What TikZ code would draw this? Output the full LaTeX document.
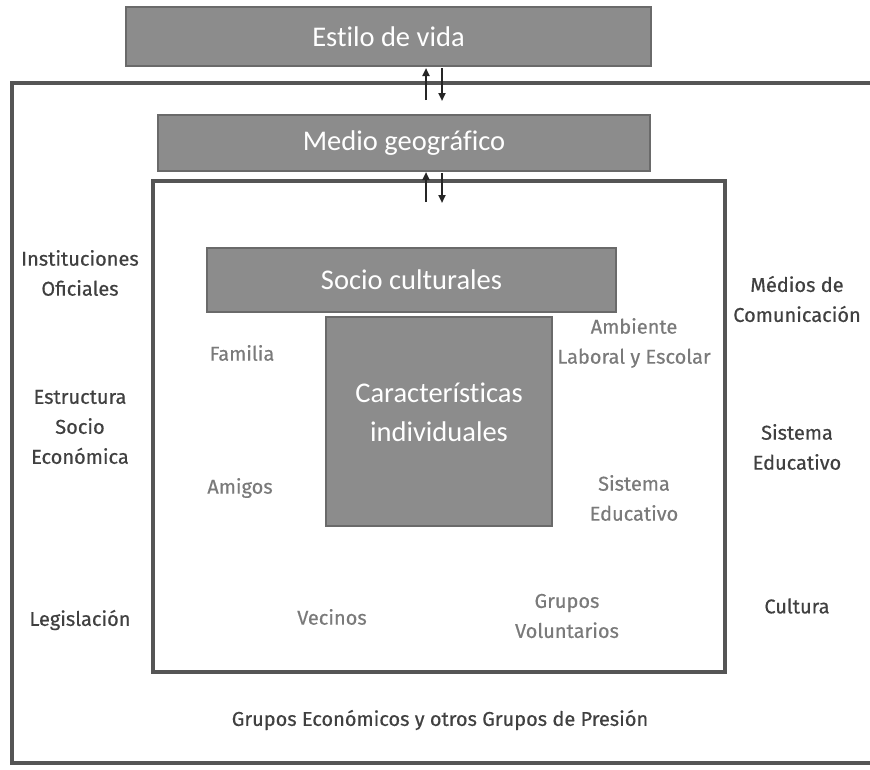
\documentclass[tikz,border=0pt]{standalone}
\usepackage{fontspec}
\setmainfont[Ligatures=NoCommon]{Carlito}
\newfontfamily\lblfont[FakeBold=0.5]{Fira Sans}
\usetikzlibrary{arrows.meta}
\definecolor{boxfill}{HTML}{8C8C8C}
\definecolor{boxline}{HTML}{6A6A6A}
\definecolor{frameline}{HTML}{555555}
\definecolor{outertext}{HTML}{404040}
\definecolor{innertext}{HTML}{7A7A7A}
\tikzset{
  graybox/.style={draw=boxline, line width=1.5pt, fill=boxfill, text=white, font=\fontsize{28.5}{30}\selectfont, align=center, inner sep=0pt},
  outerlbl/.style={text=outertext, font=\lblfont\fontsize{20}{30}\selectfont, align=center},
  innerlbl/.style={text=innertext, font=\lblfont\fontsize{20}{30}\selectfont, align=center},
  frame/.style={draw=frameline, line width=3.5pt},
  arr/.style={-{Triangle[length=8pt,width=7pt]}, line width=2.2pt, draw=black!85}
}
\begin{document}
\begin{tikzpicture}[x=1pt,y=-1pt]
\useasboundingbox (0,0) rectangle (870,769);
\clip (0,0) rectangle (870,769);
% outer frame
\draw[frame] (900,83) -- (12,83) -- (12,763) -- (900,763);
% inner frame
\draw[frame] (153,181) rectangle (725,672);
% boxes
\node[graybox, minimum width=525pt, minimum height=59pt] (estilo) at (388.5,36.5) {Estilo de vida};
\node[graybox, minimum width=492pt, minimum height=56pt] (medio) at (404,143) {Medio geográfico};
\node[graybox, minimum width=409pt, minimum height=64pt] (socio) at (411.5,280) {Socio culturales};
\node[graybox, minimum width=226pt, minimum height=209pt] (carac) at (439,421.5) {};
\node[text=white, font=\fontsize{28.5}{39}\selectfont, align=center] (caractxt) at (439,412) {Características\\individuales};
% arrows
\coordinate (a1s) at (426,100);
\coordinate (a1e) at (426,68);
\coordinate (a2s) at (442,68);
\coordinate (a2e) at (442,101);
\draw[arr] (a1s) -- (a1e);
\draw[arr] (a2s) -- (a2e);
\coordinate (b1s) at (426,202);
\coordinate (b1e) at (426,172);
\coordinate (b2s) at (442,173);
\coordinate (b2e) at (442,203);
\draw[arr] (b1s) -- (b1e);
\draw[arr] (b2s) -- (b2e);
% outer labels
\node[outerlbl] (inst) at (80,273) {Instituciones\\Oficiales};
\node[outerlbl] (estr) at (80,427) {Estructura\\Socio\\Económica};
\node[outerlbl] (legi) at (80,620) {Legislación};
\node[outerlbl] (medios) at (797,299) {Médios de\\Comunicación};
\node[outerlbl] (sised) at (797,447) {Sistema\\Educativo};
\node[outerlbl] (cult) at (797,606) {Cultura};
\node[outerlbl] (grupe) at (440,720) {Grupos Económicos y otros Grupos de Presión};
% inner labels
\node[innerlbl] (fam) at (242,353) {Familia};
\node[innerlbl] (ami) at (240,488) {Amigos};
\node[innerlbl] (vec) at (332,617) {Vecinos};
\node[innerlbl] (grv) at (567,616) {Grupos\\Voluntarios};
\node[innerlbl] (sei) at (634,498) {Sistema\\Educativo};
\node[innerlbl] (amb) at (634,343) {Ambiente\\Laboral y Escolar};
\end{tikzpicture}
\end{document}
